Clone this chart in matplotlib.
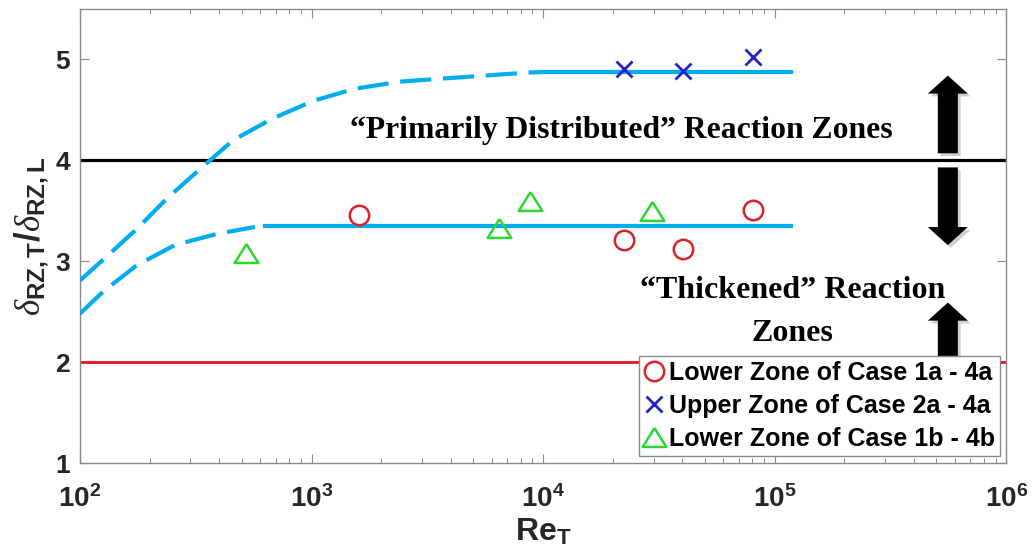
import numpy as np
import matplotlib
matplotlib.use("Agg")
import matplotlib.pyplot as plt
import matplotlib.patheffects as pe
from matplotlib.ticker import FixedLocator, LogLocator, NullFormatter

plt.rcParams['font.family'] = ['Liberation Sans', 'DejaVu Sans']
plt.rcParams['mathtext.fontset'] = 'custom'
plt.rcParams['mathtext.rm'] = 'Liberation Sans:bold'
plt.rcParams['mathtext.bf'] = 'Liberation Sans:bold'
plt.rcParams['mathtext.it'] = 'Liberation Serif:italic'

# measured points
re_lower_a = [1610, 22300, 40300, 80800]
ratio_lower_a = [3.46, 3.215, 3.12, 3.505]
re_upper_a = [22300, 40300, 80800]
ratio_upper_a = [4.91, 4.89, 5.02]
re_lower_b = [521, 6440, 8790, 29500]
ratio_lower_b = [3.08, 3.33, 3.60, 3.495]

# fitted trend lines (dashed part at low Re, solid plateau)
upper_dash_re = [100, 128, 176, 237, 336, 459, 673, 1019, 1542, 2410, 3650, 5610, 8630, 10000]
upper_dash_ratio = [2.81, 3.03, 3.32, 3.62, 3.93, 4.20, 4.41, 4.59, 4.71, 4.78, 4.81, 4.84, 4.87, 4.875]
upper_flat_re = [10200, 118000]
upper_flat_ratio = [4.875, 4.875]
lower_dash_re = [100, 126, 176, 257, 389, 570]
lower_dash_ratio = [2.48, 2.70, 2.96, 3.16, 3.27, 3.34]
lower_flat_re = [630, 118000]
lower_flat_ratio = [3.35, 3.35]

thick_limit = 2
dist_limit = 4

legend_labels = ['Lower Zone of Case 1a - 4a',
                 'Upper Zone of Case 2a - 4a',
                 'Lower Zone of Case 1b - 4b']

cyan = '#00aeef'
tri = [(0, 0.8), (-1, -0.8), (1, -0.8), (0, 0.8)]

fig = plt.figure(figsize=(10.33, 5.59), dpi=100)
ax = fig.add_axes([0.0774, 0.1717, 0.8966, 0.8122])

ax.axhline(dist_limit, color='black', lw=2.3, zorder=2)
ax.axhline(thick_limit, color='#e8141c', lw=2.0, zorder=2)

ax.plot(upper_dash_re, upper_dash_ratio, color=cyan, lw=3, dashes=(7.5, 2.8), zorder=3)
ax.plot(upper_flat_re, upper_flat_ratio, color=cyan, lw=3, zorder=3)
ax.plot(lower_dash_re, lower_dash_ratio, color=cyan, lw=3, dashes=(7.5, 2.8), zorder=3)
ax.plot(lower_flat_re, lower_flat_ratio, color=cyan, lw=3, zorder=3)

h1, = ax.plot(re_lower_a, ratio_lower_a, 'o', ms=14, mfc='none', mec='#d8232a', mew=1.8,
              ls='none', zorder=4, label=legend_labels[0])
h2, = ax.plot(re_upper_a, ratio_upper_a, 'x', ms=12, mec='#2323c8', mew=2.0,
              ls='none', zorder=4, label=legend_labels[1])
h3, = ax.plot(re_lower_b, ratio_lower_b, marker=tri, ms=17, mfc='none', mec='#2fd62f', mew=1.8,
              ls='none', zorder=4, label=legend_labels[2])

ax.set_xscale('log')
ax.set_xlim(1e2, 1e6)
ax.set_ylim(1, 5.5)

ax.xaxis.set_major_locator(FixedLocator([1e2, 1e3, 1e4, 1e5, 1e6]))
ax.set_xticklabels([r'$\mathbf{10^{%d}}$' % k for k in range(2, 7)])
ax.xaxis.set_minor_locator(LogLocator(base=10, subs=np.arange(2, 10)))
ax.xaxis.set_minor_formatter(NullFormatter())
ax.set_yticks([1, 2, 3, 4, 5])
ax.set_yticklabels(['1', '2', '3', '4', '5'])

for s in ax.spines.values():
    s.set_color('#8a8a8a')
    s.set_linewidth(1.0)
ax.tick_params(which='both', direction='in', top=True, right=True, color='#8a8a8a')
ax.tick_params(which='major', length=6.5, width=0.8)
ax.tick_params(which='minor', length=3.5, width=0.7)
ax.tick_params(axis='y', labelsize=19, pad=7, labelcolor='#262626')
ax.tick_params(axis='x', labelsize=20, pad=16, labelcolor='#262626')
for lab in ax.get_yticklabels():
    lab.set_fontweight('bold')

ax.set_xlabel(r'$\mathbf{Re}_{\mathbf{T}}$', fontsize=23, color='#262626', labelpad=3)
ax.set_ylabel(r'$\delta_{\mathbf{RZ,T}}\mathbf{/}\delta_{\mathbf{RZ,L}}$', fontsize=25,
              color='#262626', labelpad=4)

ax.text(21700, 4.30, '\u201cPrimarily Distributed\u201d Reaction Zones', family='Liberation Serif',
        weight='bold', fontsize=22.8, ha='center', va='center', zorder=5)
ax.text(1.2e5, 2.50, '\u201cThickened\u201d Reaction\nZones', family='Liberation Serif',
        weight='bold', fontsize=23, ha='center', va='center', linespacing=1.65, zorder=5)

# region arrows
arrow_x = 5.6e5
shadow = [pe.SimplePatchShadow(offset=(2, -2), shadow_rgbFace='#777777', alpha=0.35), pe.Normal()]
for tail, tip in [(4.07, 4.84), (3.93, 3.16), (2.05, 2.59)]:
    ann = ax.annotate('', xy=(arrow_x, tip), xytext=(arrow_x, tail),
                      arrowprops=dict(arrowstyle='simple,head_length=1.3,head_width=2.88,tail_width=1.44',
                                      mutation_scale=10, fc='black', ec='black', lw=0,
                                      shrinkA=0, shrinkB=0),
                      zorder=5)
    ann.arrow_patch.set_path_effects(shadow)

leg = ax.legend(handles=[h1, h2, h3], loc='upper right', bbox_to_anchor=(0.9935, 0.2357),
                borderaxespad=0, fancybox=False, framealpha=1, edgecolor='#8a8a8a',
                prop=dict(family='Liberation Sans', weight='bold', size=18),
                handlelength=0.8, handletextpad=0.2, borderpad=0.2, labelspacing=0.35)
leg.get_frame().set_linewidth(1.0)
leg.set_zorder(10)

fig.savefig('out.png', dpi=100)
